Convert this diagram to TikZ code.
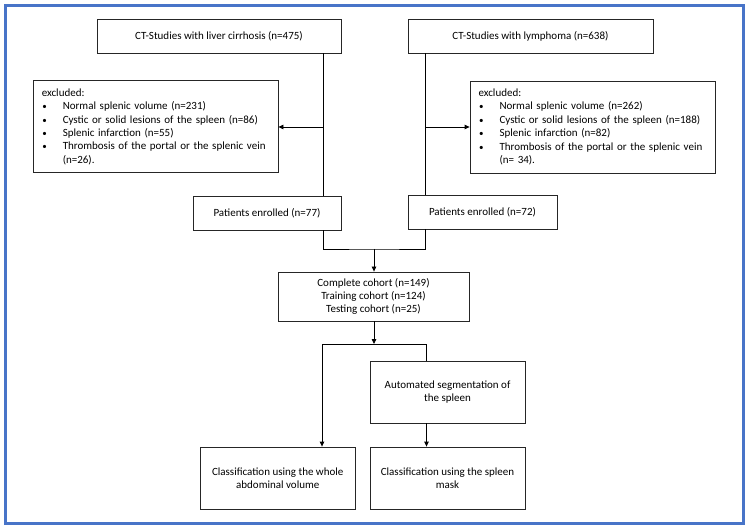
\documentclass[tikz,border=0pt]{standalone}
\usepackage{fontspec}
\setmainfont{Carlito}
\usetikzlibrary{arrows.meta}
\definecolor{cornice}{RGB}{72,116,200}
\newcommand{\punto}{\makebox[21pt][l]{\hspace*{0.5pt}\small\textbullet}}

\begin{document}
\begin{tikzpicture}[x=1pt,y=-1pt,
        box/.style={draw=black!85, line width=0.8pt, rectangle, inner sep=0pt,
            font=\fontsize{11}{13.4}\selectfont, align=center},
        freccia/.style={line width=0.8pt, -{Triangle[length=5pt,width=4.5pt]}},
        linea/.style={line width=0.8pt}]
        \useasboundingbox (0,0) rectangle (749,526);

        % Cornice
        \draw[cornice, line width=3pt] (5.5,5.5) rectangle (743.5,523);

        % Studi CT
        \node[box, minimum width=244pt, minimum height=34pt] (cirrosi) at (219,36) {CT-Studies with liver cirrhosis (n=475)};
        \node[box, minimum width=245pt, minimum height=34pt] (linfoma) at (530.5,36) {CT-Studies with lymphoma (n=638)};

        % Esclusi
        \node[box, minimum width=244.5pt, minimum height=92pt, align=left, text width=228pt] (esclSx) at (155.75,126.75) {excluded:\\
            \punto Normal splenic volume (n=231)\\
            \punto Cystic or solid lesions of the spleen (n=86)\\
            \punto Splenic infarction (n=55)\\
            \punto Thrombosis of the portal or the splenic vein\\
            \hspace*{21pt}(n=26).};
        \node[box, minimum width=245pt, minimum height=92pt, align=left, text width=228pt] (esclDx) at (592.5,127) {excluded:\\
            \punto Normal splenic volume (n=262)\\
            \punto Cystic or solid lesions of the spleen (n=188)\\
            \punto Splenic infarction (n=82)\\
            \punto Thrombosis of the portal or the splenic vein\\
            \hspace*{21pt}(n= 34).};

        % Arruolati
        \node[box, minimum width=148pt, minimum height=34pt] (arrSx) at (267,213) {Patients enrolled (n=77)};
        \node[box, minimum width=149pt, minimum height=34pt] (arrDx) at (482.5,212) {Patients enrolled (n=72)};

        % Coorte
        \node[box, minimum width=191pt, minimum height=49pt] (coorte) at (373.5,296.5) {Complete cohort (n=149)\\Training cohort (n=124)\\Testing cohort (n=25)};

        % Segmentazione e classificazione
        \node[box, minimum width=155pt, minimum height=62pt] (segm) at (447.5,392) {Automated segmentation of\\the spleen};
        \node[box, minimum width=155pt, minimum height=62pt] (classAddome) at (277.75,478) {Classification using the whole\\abdominal volume};
        \node[box, minimum width=155pt, minimum height=62pt] (classMilza) at (447.5,478) {Classification using the spleen\\mask};

        % Punti di giunzione
        \coordinate (giuSx) at (323,127);
        \coordinate (giuDx) at (425,127);
        \coordinate (unione) at (374,249);
        \coordinate (divisione) at (374,344);
        \coordinate (ramoSx) at (322,344);
        \coordinate (ramoDx) at (426.5,344);

        % Collegamenti
        \draw[linea] (cirrosi.south -| giuSx) -- (arrSx.north -| giuSx);
        \draw[freccia] (giuSx) -- (esclSx.east |- giuSx);
        \draw[linea] (linfoma.south -| giuDx) -- (arrDx.north -| giuDx);
        \draw[freccia] (giuDx) -- (esclDx.west |- giuDx);

        \draw[linea] (arrSx.south -| giuSx) |- (unione) -| (arrDx.south -| giuDx);
        \draw[freccia] (unione) -- (coorte.north -| unione);
        \draw[freccia] (coorte.south -| divisione) -- (divisione);

        \draw[linea] (ramoSx) -- (ramoDx);
        \draw[freccia] (ramoSx) -- (classAddome.north -| ramoSx);
        \draw[linea] (ramoDx) -- (segm.north -| ramoDx);
        \draw[freccia] (segm.south -| ramoDx) -- (classMilza.north -| ramoDx);
    \end{tikzpicture}
\end{document}
